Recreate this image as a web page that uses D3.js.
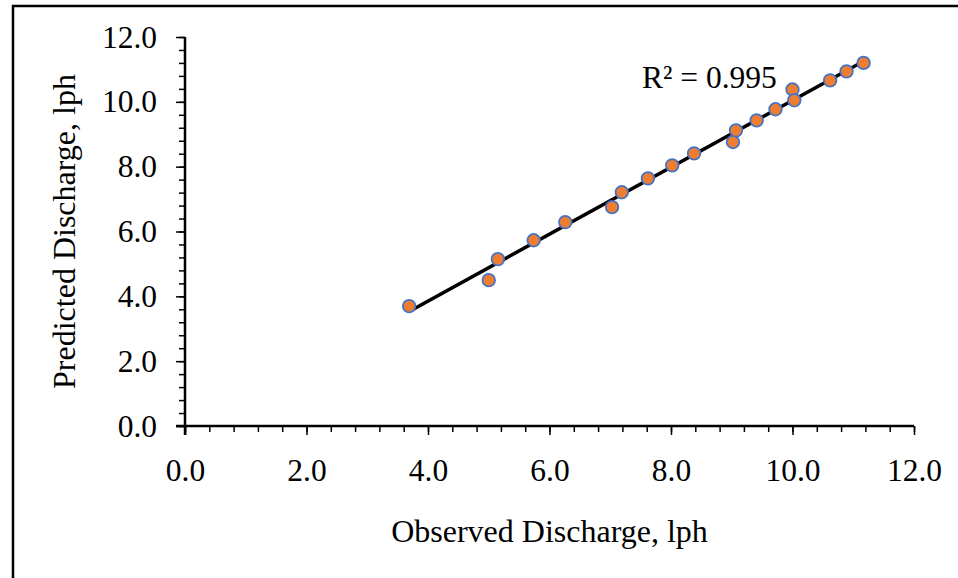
<!DOCTYPE html>
<html>
<head>
<meta charset="utf-8">
<script src="https://cdn.jsdelivr.net/npm/d3@7"></script>
<style>
  body { margin: 0; background: #fff; }
  svg { display: block; font-family: "Liberation Serif", "Times New Roman", serif; }
</style>
</head>
<body>
<svg id="chart" width="958" height="578"></svg>
<script>
// observed vs predicted discharge (lph)
var observed  = [3.69, 5.00, 5.15, 5.74, 6.26, 7.03, 7.19, 7.62, 8.02, 8.38, 9.02, 9.07, 9.41, 9.72, 10.00, 10.03, 10.62, 10.89, 11.17];
var predicted = [3.70, 4.50, 5.15, 5.73, 6.29, 6.75, 7.21, 7.64, 8.04, 8.41, 8.76, 9.12, 9.43, 9.77, 10.38, 10.05, 10.66, 10.94, 11.20];
var tickValues = [0, 2, 4, 6, 8, 10, 12];
var r2Label = "R² = 0.995";
var xTitle = "Observed Discharge, lph";
var yTitle = "Predicted Discharge, lph";

var svg = d3.select("#chart");

// outer chart frame (runs off right and bottom edges)
svg.append("rect")
    .attr("x", 13)
    .attr("y", 6)
    .attr("width", 980)
    .attr("height", 600)
    .attr("fill", "none")
    .attr("stroke", "#000")
    .attr("stroke-width", 2.5);

var xScale = d3.scaleLinear().domain([0, 12]).range([185, 914]);
var yScale = d3.scaleLinear().domain([0, 12]).range([426, 37]);

var minorTicks = d3.range(0, 12.0001, 0.4);

// minor ticks first, majors on top
svg.append("g")
    .attr("transform", "translate(0," + yScale(0) + ")")
    .call(d3.axisBottom(xScale).tickValues(minorTicks).tickSize(6).tickFormat(""))
    .call(function(g) { g.select(".domain").remove(); })
    .selectAll("line").attr("stroke-width", 1.5);

svg.append("g")
    .attr("transform", "translate(" + xScale(0) + ",0)")
    .call(d3.axisLeft(yScale).tickValues(minorTicks).tickSize(6).tickFormat(""))
    .call(function(g) { g.select(".domain").remove(); })
    .selectAll("line").attr("stroke-width", 1.5);

var xAxis = svg.append("g")
    .attr("transform", "translate(0," + yScale(0) + ")")
    .call(d3.axisBottom(xScale).tickValues(tickValues).tickSize(9).tickPadding(24)
        .tickFormat(d3.format(".1f")));
xAxis.select(".domain").attr("d", "M" + xScale(0) + ",0H" + xScale(12)).attr("stroke-width", 2.5);
xAxis.selectAll("line").attr("stroke-width", 1.5);
xAxis.selectAll("text").attr("font-size", 31.5).attr("fill", "#000")
    .attr("font-family", "Liberation Serif");

var yAxis = svg.append("g")
    .attr("transform", "translate(" + xScale(0) + ",0)")
    .call(d3.axisLeft(yScale).tickValues(tickValues).tickSize(9).tickPadding(19)
        .tickFormat(d3.format(".1f")));
yAxis.select(".domain").attr("d", "M0," + yScale(12) + "V" + (yScale(0) + 9)).attr("stroke-width", 2.5);
yAxis.selectAll("line").attr("stroke-width", 1.5);
yAxis.selectAll("text").attr("font-size", 31.5).attr("fill", "#000")
    .attr("font-family", "Liberation Serif");

// extend x axis line left to meet the y major tick
svg.append("line")
    .attr("x1", xScale(0) - 9).attr("x2", xScale(0))
    .attr("y1", yScale(0)).attr("y2", yScale(0))
    .attr("stroke", "#000").attr("stroke-width", 2.5);

// linear trendline
var n = observed.length;
var mx = d3.mean(observed), my = d3.mean(predicted);
var sxy = 0, sxx = 0;
for (var i = 0; i < n; i++) {
    sxy += (observed[i] - mx) * (predicted[i] - my);
    sxx += (observed[i] - mx) * (observed[i] - mx);
}
var slope = sxy / sxx;
var intercept = my - slope * mx;
var xMin = d3.min(observed), xMax = d3.max(observed);

svg.append("line")
    .attr("x1", xScale(xMin)).attr("y1", yScale(slope * xMin + intercept))
    .attr("x2", xScale(xMax)).attr("y2", yScale(slope * xMax + intercept))
    .attr("stroke", "#000")
    .attr("stroke-width", 3.5);

svg.append("g")
    .selectAll("circle")
    .data(observed)
    .enter()
    .append("circle")
    .attr("cx", function(d) { return xScale(d); })
    .attr("cy", function(d, i) { return yScale(predicted[i]); })
    .attr("r", 6.3)
    .attr("fill", "#ED7D31")
    .attr("stroke", "#4472C4")
    .attr("stroke-width", 1.75);

svg.append("text")
    .attr("x", 642)
    .attr("y", 88)
    .attr("font-size", 31.5)
    .text(r2Label);

svg.append("text")
    .attr("x", (xScale(0) + xScale(12)) / 2)
    .attr("y", 542)
    .attr("text-anchor", "middle")
    .attr("font-size", 32)
    .text(xTitle);

svg.append("text")
    .attr("transform", "translate(75," + (yScale(0) + yScale(12)) / 2 + ") rotate(-90)")
    .attr("text-anchor", "middle")
    .attr("font-size", 32)
    .text(yTitle);
</script>
</body>
</html>
